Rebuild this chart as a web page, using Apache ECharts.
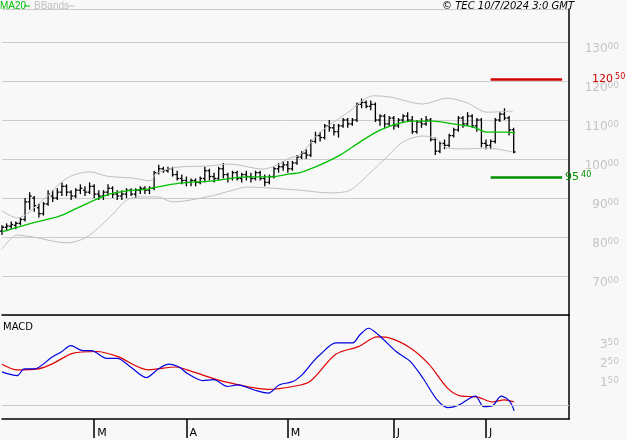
<!DOCTYPE html>
<html><head><meta charset="utf-8">
<script src="https://cdn.jsdelivr.net/npm/echarts@6/dist/echarts.min.js"></script>
<style>html,body{margin:0;padding:0;background:#f8f8f8}#c{width:627px;height:440px}</style>
</head><body><div id="c"></div>
<script>
// OHLC bars (bar index = trading day from Feb 2024)
const opens  = [81.5,82.5,82.8,83,83.5,84.5,89,90,87.5,86,88.5,90.5,90,91.5,93,91.5,90.5,92,92,91.5,93,91,90.5,91.5,92.5,91,90.5,91,92,91,92,92.5,92,92.5,96.5,97.5,97,97.5,96,95,94.5,94,94.5,94,95,97,95.5,95,97.5,96,95,96.5,95,96,95.5,95,96.5,95,94,95.5,97.5,98,98.5,97.5,99,100.5,101.5,101,104.5,106,105.5,108.5,108,107,108.5,110,109,110,114,114.5,113.5,114,110,111,109,110.5,108.5,110,111,110,107,109.5,109,110,105,102,104,103.5,106,107.5,110.5,109,111,108.5,110,104,103.5,104.5,110,111.5,110.5,107.5];
const highs  = [83,83.5,84,84,85,90,91.5,90.5,88.5,89,92,92,92.5,94,93.5,92,92.5,93.5,93,94,93.5,92,92,93.5,93,92,92,92.5,92.5,92.5,93,93,93,97,98.5,98,98,98,97,96,95.5,95,95,95.5,98,97.5,96.5,98,99,96.5,97,97,96.5,97,96.5,97,97,96,96,98,99,99.5,99.5,99.5,101,102,102.5,105,107,107,109,110,109,109,110.5,110.5,110.5,114.5,115.5,115,115,114.5,111.5,111.5,111,111,110.5,111.5,112,111,110,110.5,111,110.5,105.5,104.5,105,106.5,108,111,111,112,111.5,110.5,110.5,105,105,110.5,112,113,111,108];
const lows   = [80.5,81.5,82,82,83,84,87,86.5,85,85.5,88,89,89.5,90.5,90.5,89.5,90,91,90.5,91,90,89.5,89.5,90.5,90,89.5,89.5,90,90.5,90,91,91,91,92,96,96.5,96.5,95.5,94.5,93.5,93,93,93,93.5,94,94.5,94,94.5,95,94,94.5,94.5,94,94.5,94,94.5,94.5,93,93.5,95,96.5,97,96.5,97,98.5,100,100,100.5,104,104.5,105,107,106,105.5,108,108,108.5,109.5,113,113,112.5,109.5,108.5,108,108.5,107.5,108,109.5,109.5,106.5,106.5,108,108.5,104.5,101,101.5,102.5,103,105.5,107,108,108.5,108,107,103,102.5,102.5,104,109.5,110,106,101.5];
const closes = [82.5,82.8,83.2,83.5,84.5,89,90.5,88,86,88.5,91,90,91.5,93,91.5,90.5,92,92.5,91.5,93,91,90.5,91.5,92.5,91,90.5,91,92,91,92,92.5,92,92.5,96.5,97.5,97,97.5,96,95,94.5,94,94.5,94,95,97,95.5,95,97.5,96,95,96.5,95,96,95.5,95,96.5,95,94,95.5,97.5,98,98.5,97.5,99,100.5,101.5,101,104.5,106,105.5,108.5,108,107,108.5,110,109,110,114,114.5,113.5,114,110,111,109,110.5,108.5,110,111,110,107,109.5,109,110,105,102,104,103.5,106,107.5,110.5,109,111,108.5,110,104,103.5,104.5,110,111.5,110.5,107.5,101.8];
// Indicators as [barIndex, value] readings
const ma20 = [[0,81.3],[6.7,83.6],[12.6,85.4],[16.3,87.4],[22.8,90.8],[27.1,91.8],[31.5,92.3],[33.6,92.8],[38.6,93.8],[45.8,94.4],[53.1,95.4],[58.1,95.4],[62.5,96.2],[64.6,96.5],[69,98.5],[73.3,101],[77.7,104.4],[82,107.4],[86.3,109.2],[89.2,109.7],[93.5,109.7],[97.8,109],[102.2,108.2],[105.2,106.9],[109.5,106.9],[111.3,106.7]];
const bbUpper = [[0,86.7],[3.3,84.9],[8.9,89.5],[14.1,95.1],[19.1,96.7],[22.8,95.6],[28.4,95.1],[32.1,94.4],[33.6,96.4],[38,97.9],[44.5,98.2],[49.5,98.7],[56.6,97.4],[59.7,98.5],[62.5,100.3],[64.6,101],[69,106.9],[75.5,112.3],[78.3,115.1],[80.5,116.2],[84.2,115.9],[91.3,114.1],[96.5,115.6],[100.9,114.4],[105.2,112],[110.8,112.3]];
const bbLower = [[0,76.9],[3.3,80.5],[6.7,80],[14.1,78.5],[18.4,80],[23.4,85.1],[27.1,89.5],[29.9,90.3],[33.6,90.3],[37.1,89],[44.5,90.3],[50.1,92],[53.1,92.8],[64.6,92],[71.1,91.3],[75.5,92],[79.8,96.4],[83.5,100.5],[87,104.4],[91.3,105.9],[94.4,105.1],[96.5,102.8],[100.9,102.6],[105.2,102.8],[110.8,101.8]];
const macdLine = [[0,174],[3.3,154],[4.8,190],[7,190],[10.8,251],[13,282],[14.9,313],[17.5,287],[19.4,287],[22.7,246],[25,246],[27.9,200],[31.3,144],[33.9,190],[36.2,215],[38.4,200],[40.3,164],[43.6,128],[45.9,133],[48.9,97],[51.1,105],[54.9,77],[57.8,62],[60.1,105],[63.1,123],[65.3,164],[67.6,231],[69.1,267],[72.4,328],[76.1,328],[77.6,369],[79.5,405],[81.7,369],[85.5,282],[88.5,231],[91.4,138],[94.4,26],[96.7,-15],[98.9,-3],[102.7,46],[104.5,-10],[106.4,-5],[108.3,46],[110.1,20],[111.1,-31]];
const signalLine = [[0,215],[3.3,185],[7.8,190],[10.8,215],[15.3,272],[20.5,282],[25,256],[31.8,185],[37.7,200],[41.4,174],[48.2,123],[57.8,82],[63.1,97],[66.8,123],[72.4,267],[77.3,308],[81.4,359],[84,354],[88.5,302],[92.6,215],[96.7,87],[99.7,46],[103,42],[106.4,15],[109,26],[111.1,15]];
const monthTickIdx = [20,40,62,85,105];
const monthLabels = ['M','A','M','J','J'];
const resistance = 120.50, support = 95.40;
const priceTicks = [70,80,90,100,110,120,130];
const macdTicks = [150,250,350];

const ohlc = opens.map((o,i)=>[i,o,highs[i],lows[i],closes[i]]);
const chart = echarts.init(document.getElementById('c'));
const gray='#c4c4c4';
const splitLbl = v => String(v)+'{s|00}';
chart.setOption({
  backgroundColor:'#f8f8f8',
  animation:false,
  grid:[{left:2,width:567,top:9,height:306},{left:2,width:567,top:315,height:104}],
  xAxis:[
    {type:'value',gridIndex:0,min:0,max:123,axisLine:{show:true,onZero:false,lineStyle:{color:'#000',width:1.5}},axisTick:{show:false},axisLabel:{show:false},splitLine:{show:false}},
    {type:'value',gridIndex:1,min:0,max:123,axisLine:{show:true,onZero:false,lineStyle:{color:'#000',width:1.5}},splitLine:{show:false},
     axisTick:{show:true,customValues:monthTickIdx,length:19,lineStyle:{color:'#000',width:1.5}},
     axisLabel:{customValues:monthTickIdx,formatter:v=>monthLabels[monthTickIdx.indexOf(v)]||'',align:'left',padding:[0,0,0,3],margin:9,color:'#000',fontSize:11,fontFamily:'DejaVu Sans'}}
  ],
  yAxis:[
    {type:'value',gridIndex:0,position:'right',min:60,max:100+(159-9)/3.9,interval:10,
     axisLine:{show:true,onZero:false,lineStyle:{color:'#000',width:1.5}},axisTick:{show:false},
     splitLine:{lineStyle:{color:'#cccccc',width:1}},
     axisLabel:{customValues:priceTicks,formatter:splitLbl,margin:50,align:'right',verticalAlign:'top',color:gray,fontSize:12,fontFamily:'DejaVu Sans',
       rich:{s:{fontSize:9,color:gray,padding:[0,0,4,0]}}}},
    {type:'value',gridIndex:1,position:'right',min:-75,max:475,interval:25,
     axisLine:{show:true,onZero:false,lineStyle:{color:'#000',width:1.5}},axisTick:{show:false},splitLine:{show:false},
     axisLabel:{customValues:macdTicks,formatter:v=>String(v).slice(0,1)+'{s|'+String(v).slice(1)+'}',margin:50,align:'right',verticalAlign:'top',color:gray,fontSize:12,fontFamily:'DejaVu Sans',
       rich:{s:{fontSize:9,color:gray,padding:[0,0,4,0]}}}}
  ],
  series:[
    {type:'line',xAxisIndex:0,yAxisIndex:0,data:bbUpper,symbol:'none',smooth:0.3,lineStyle:{color:'#c0c0c0',width:1}},
    {type:'line',xAxisIndex:0,yAxisIndex:0,data:bbLower,symbol:'none',smooth:0.3,lineStyle:{color:'#c0c0c0',width:1}},
    {type:'line',xAxisIndex:0,yAxisIndex:0,data:ma20,symbol:'none',smooth:0.3,lineStyle:{color:'#00c000',width:1.3},
     markLine:{symbol:'none',silent:true,data:[
       [{coord:[106,resistance],lineStyle:{color:'#d00000',width:2.5,type:'solid'},
         label:{show:true,position:'end',distance:30,formatter:'120{s|50}',color:'#d00000',fontSize:11,fontFamily:'DejaVu Sans',rich:{s:{fontSize:8,color:'#d00000',padding:[0,0,4,2]}}}},{coord:[121.5,resistance]}],
       [{coord:[106,support],lineStyle:{color:'#009000',width:2.5,type:'solid'},
         label:{show:true,position:'end',distance:3,formatter:'95{s|40}',color:'#009000',fontSize:11,fontFamily:'DejaVu Sans',rich:{s:{fontSize:8,color:'#009000',padding:[0,0,4,2]}}}},{coord:[121.5,support]}]
     ]}},
    {type:'custom',xAxisIndex:0,yAxisIndex:0,data:ohlc,encode:{x:0,y:[1,2,3,4]},
     renderItem:(params,api)=>{
       const x=api.value(0);
       const pO=api.coord([x,api.value(1)]),pH=api.coord([x,api.value(2)]),pL=api.coord([x,api.value(3)]),pC=api.coord([x,api.value(4)]);
       const st={stroke:'#000',lineWidth:1.3};
       return {type:'group',children:[
         {type:'line',shape:{x1:pH[0],y1:pH[1],x2:pL[0],y2:pL[1]},style:st},
         {type:'line',shape:{x1:pO[0]-2,y1:pO[1],x2:pO[0],y2:pO[1]},style:st},
         {type:'line',shape:{x1:pC[0],y1:pC[1],x2:pC[0]+2,y2:pC[1]},style:st}]};
     }},
    {type:'line',xAxisIndex:1,yAxisIndex:1,data:signalLine,symbol:'none',smooth:0.3,lineStyle:{color:'#e00000',width:1.2},
     markLine:{symbol:'none',silent:true,label:{show:false},lineStyle:{color:'#c8c8c8',width:1,type:'solid'},data:[{yAxis:0}]}},
    {type:'line',xAxisIndex:1,yAxisIndex:1,data:macdLine,symbol:'none',smooth:0.3,lineStyle:{color:'#0000e0',width:1.2}}
  ],
  graphic:[
    {type:'text',left:0,top:1,style:{text:'MA20',fill:'#00c000',font:'10px "Liberation Sans"'}},
    {type:'line',shape:{x1:24,y1:6,x2:30,y2:6},style:{stroke:'#00c000',lineWidth:1}},
    {type:'text',left:34,top:1,style:{text:'BBands',fill:'#c0c0c0',font:'10px "Liberation Sans"'}},
    {type:'line',shape:{x1:68,y1:6,x2:75,y2:6},style:{stroke:'#c0c0c0',lineWidth:1}},
    {type:'text',right:53,top:1,style:{text:'© TEC 10/7/2024 3:0 GMT',fill:'#000',font:'italic 10px "DejaVu Sans"'}},
    {type:'text',left:3,top:322,style:{text:'MACD',fill:'#000',font:'10px "DejaVu Sans"'}}
  ]
});
</script></body></html>
